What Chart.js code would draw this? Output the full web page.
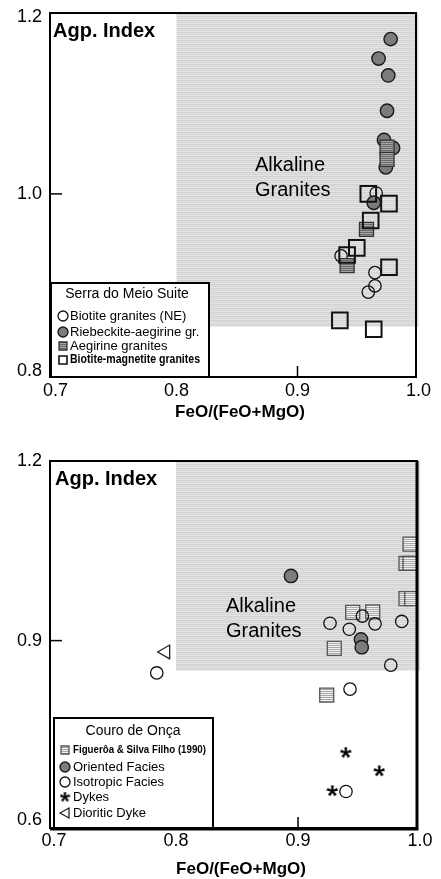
<!DOCTYPE html>
<html><head><meta charset="utf-8">
<script src="https://cdn.jsdelivr.net/npm/chart.js@4.4.1/dist/chart.umd.min.js"></script>
<style>
html,body{margin:0;padding:0;background:#fff;width:441px;height:879px;overflow:hidden}
.c{position:absolute;left:0;width:441px}
#w1{top:0;height:440px}
#w2{top:440px;height:439px}
</style></head><body>
<div class="c" id="w1"><canvas id="c1"></canvas></div>
<div class="c" id="w2"><canvas id="c2"></canvas></div>
<script>
// ---------- data ----------
const xTicks = [0.7, 0.8, 0.9, 1.0];
const xTickMarks = [0.8, 0.9];
const topYTicks = [0.8, 1.0, 1.2];
const topYTickMarks = [1.0];
const botYTicks = [0.6, 0.9, 1.2];
const botYTickMarks = [0.9];
const alkalineFieldX = [0.8, 1.0];
const alkalineFieldYMin = 0.85;

// Top panel: Serra do Meio Suite  [FeO/(FeO+MgO), Agp. Index]
const biotiteNE = [[0.965,1.001],[0.936,0.930],[0.964,0.911],[0.964,0.896],[0.9585,0.889]];
const riebeckite = [[0.977,1.175],[0.967,1.153],[0.975,1.134],[0.974,1.094],[0.9715,1.061],[0.979,1.052],[0.973,1.030],[0.963,0.990]];
const aegirine = [[0.974,1.053],[0.974,1.039],[0.957,0.960],[0.941,0.919]];
const biotiteMag = [[0.9585,1.000],[0.9756,0.989],[0.9605,0.970],[0.949,0.939],[0.941,0.931],[0.9756,0.917],[0.935,0.857],[0.963,0.847]];

// Bottom panel: Couro de Onça
const figueroa = [[0.9918,1.061],[0.9885,1.029],[0.9918,1.029],[0.9885,0.970],[0.9932,0.970],[0.9448,0.947],[0.9612,0.948],[0.9297,0.887],[0.9235,0.809]];
const oriented = [[0.8942,1.008],[0.9516,0.902],[0.9522,0.889]];
const isotropic = [[0.9262,0.929],[0.942,0.919],[0.9527,0.941],[0.9631,0.928],[0.985,0.932],[0.976,0.859],[0.9426,0.819],[0.7842,0.846],[0.9393,0.648]];
const dykes = [[0.9391,0.713],[0.9666,0.682],[0.9281,0.649]];
const dioriticDyke = [[0.7915,0.881]];

const topLegendTitle = 'Serra do Meio Suite';
const botLegendTitle = 'Couro de Onça';
// ---------- end data ----------

const FONT = '"Liberation Sans", Arial, Helvetica, sans-serif';
const pts = a => a.map(p => ({x:p[0], y:p[1]}));

function rowPattern(rows, w){
  const c = document.createElement('canvas'); c.width = w || 4; c.height = rows.length;
  const g = c.getContext('2d');
  rows.forEach((col,i)=>{ g.fillStyle = col; g.fillRect(0,i,c.width,1); });
  return g.createPattern(c,'repeat');
}
const shade = rowPattern(['#d2d2d2','#dedede','#d7d7d7','#e3e3e3']);
const aegFill = rowPattern(['#6a6a6a','#a4a4a4']);
const figFill = rowPattern(['#f2f2f2','#a8a8a8']);

function starCanvas(size, lw){
  const c = document.createElement('canvas'); c.width = size; c.height = size;
  const g = c.getContext('2d'); const m = size/2, r = size/2 - 0.5;
  g.fillStyle = '#000';
  // tapered arms like a typographic asterisk
  for (let k=0;k<5;k++){
    const an = -Math.PI/2 + k*2*Math.PI/5;
    const px = Math.cos(an + Math.PI/2), py = Math.sin(an + Math.PI/2);
    g.beginPath();
    g.moveTo(m + px*lw*0.35, m + py*lw*0.35);
    g.lineTo(m + Math.cos(an)*r + px*lw*0.6, m + Math.sin(an)*r + py*lw*0.6);
    g.lineTo(m + Math.cos(an)*r - px*lw*0.6, m + Math.sin(an)*r - py*lw*0.6);
    g.lineTo(m - px*lw*0.35, m - py*lw*0.35);
    g.closePath(); g.fill();
  }
  g.beginPath(); g.arc(m, m, lw*0.7, 0, Math.PI*2); g.fill();
  return c;
}
const starImg = starCanvas(12, 2.4);
const starImgSmall = starCanvas(11, 2.2);

function drawSym(ctx, st, x, y){
  ctx.save();
  ctx.fillStyle = st.fill; ctx.strokeStyle = st.stroke; ctx.lineWidth = st.lw;
  ctx.beginPath();
  const r = st.r;
  if (st.shape === 'circle'){ ctx.arc(x,y,r,0,Math.PI*2); ctx.fill(); ctx.stroke(); }
  else if (st.shape === 'rect'){ ctx.rect(x-r,y-r,2*r,2*r); ctx.fill(); ctx.stroke(); }
  else if (st.shape === 'star'){ ctx.drawImage(starImgSmall, x-5.5, y-5.5); }
  else if (st.shape === 'triangle'){
    ctx.moveTo(x-r, y); ctx.lineTo(x+r*0.8, y-r); ctx.lineTo(x+r*0.8, y+r); ctx.closePath(); ctx.fill(); ctx.stroke();
  }
  ctx.restore();
}

function makeDecor(cfg){
  return {
    id: 'decor',
    beforeDatasetsDraw(chart){
      const {ctx, scales:{x,y}} = chart;
      const x0 = x.getPixelForValue(alkalineFieldX[0]), x1 = x.getPixelForValue(alkalineFieldX[1]);
      const yb = y.getPixelForValue(alkalineFieldYMin), yt = y.getPixelForValue(y.max);
      ctx.save(); ctx.fillStyle = shade; ctx.fillRect(x0, yt, x1-x0, yb-yt); ctx.restore();
    },
    afterDatasetsDraw(chart){
      const {ctx, chartArea:a, scales:{x,y}} = chart;
      ctx.save();
      // tick marks inside
      ctx.strokeStyle = '#000'; ctx.lineWidth = 1.5;
      xTickMarks.forEach(v=>{ const px = x.getPixelForValue(v); ctx.beginPath(); ctx.moveTo(px, a.bottom); ctx.lineTo(px, a.bottom-11); ctx.stroke(); });
      cfg.yMarks.forEach(v=>{ const py = y.getPixelForValue(v); ctx.beginPath(); ctx.moveTo(a.left, py); ctx.lineTo(a.left+12, py); ctx.stroke(); });
      // legend box
      const L = cfg.legend;
      ctx.fillStyle = '#fff'; ctx.fillRect(L.box[0], L.box[1], L.box[2]-L.box[0], L.box[3]-L.box[1]);
      ctx.lineWidth = 2; ctx.strokeStyle = '#000';
      ctx.strokeRect(L.box[0], L.box[1], L.box[2]-L.box[0], L.box[3]-L.box[1]);
      ctx.fillStyle = '#000'; ctx.textBaseline = 'middle'; ctx.textAlign = 'center';
      ctx.font = '14px ' + FONT;
      ctx.fillText(L.title, L.titlePos[0], L.titlePos[1]);
      ctx.textAlign = 'left';
      L.items.forEach(it=>{
        drawSym(ctx, it.sym, L.symX, it.y);
        ctx.fillStyle = '#000'; ctx.font = it.font;
        if (it.maxW) ctx.fillText(it.text, L.textX, it.y, it.maxW); else ctx.fillText(it.text, L.textX, it.y);
      });
      // frame
      ctx.lineWidth = cfg.frameW; ctx.strokeStyle = '#000';
      ctx.strokeRect(a.left, a.top, a.right-a.left, a.bottom-a.top);
      if (cfg.heavyRB){
        ctx.lineWidth = 3; ctx.beginPath(); ctx.moveTo(a.right, a.top); ctx.lineTo(a.right, a.bottom+1); ctx.lineTo(a.left, a.bottom+1); ctx.stroke();
      }
      // labels
      ctx.fillStyle = '#000'; ctx.textAlign = 'left'; ctx.textBaseline = 'middle';
      ctx.font = 'bold 20px ' + FONT;
      ctx.fillText('Agp. Index', a.left + cfg.agp[0], a.top + cfg.agp[1]);
      ctx.font = '20px ' + FONT;
      ctx.fillText('Alkaline', cfg.alk[0], cfg.alk[1]);
      ctx.fillText('Granites', cfg.alk[0], cfg.alk[1] + 25);
      ctx.font = 'bold 17px ' + FONT; ctx.textAlign = 'center';
      ctx.fillText('FeO/(FeO+MgO)', cfg.xTitle[0], cfg.xTitle[1]);
      ctx.restore();
    }
  };
}

const ST = {
  openC:  {shape:'circle', r:6.2, fill:'rgba(0,0,0,0)', stroke:'#111', lw:1.3},
  darkC:  {shape:'circle', r:6.7, fill:'#7c7c7c', stroke:'#1a1a1a', lw:1.4},
  aegR:   {shape:'rect', r:7, fill:aegFill, stroke:'#333', lw:1.3},
  openR:  {shape:'rect', r:7.8, fill:'rgba(0,0,0,0)', stroke:'#111', lw:2},
  figR:   {shape:'rect', r:7, fill:figFill, stroke:'#555', lw:1.3},
  star:   {shape:'star', r:6, fill:'#000', stroke:'#000', lw:2},
  tri:    {shape:'triangle', r:8, fill:'#fff', stroke:'#222', lw:1.3}
};

function ds(label, data, st, order){
  const isStar = st.shape === 'star', isTri = st.shape === 'triangle';
  return {
    label, data: pts(data), order,
    pointStyle: isStar ? starImg : (isTri ? 'triangle' : st.shape),
    rotation: isTri ? -90 : 0,
    pointRadius: st.shape === 'rect' ? st.r * Math.SQRT2 : st.r,
    pointHoverRadius: st.shape === 'rect' ? st.r * Math.SQRT2 : st.r,
    backgroundColor: st.fill, borderColor: st.stroke, borderWidth: st.lw,
    pointBackgroundColor: st.fill, pointBorderColor: st.stroke, pointBorderWidth: st.lw,
    showLine: false
  };
}

function makeChart(id, datasets, xMin, xMax, yMin, yMax, yTicks, topPad, rightPad, xAxisH, tickPad, decorCfg){
  return new Chart(document.getElementById(id), {
    type: 'scatter',
    data: { datasets },
    options: {
      responsive: true, maintainAspectRatio: false, animation: false, devicePixelRatio: 1,
      layout: { padding: { top: topPad, right: rightPad, left: 0, bottom: 0 } },
      plugins: { legend: { display: false }, tooltip: { enabled: false } },
      events: [],
      scales: {
        x: {
          type: 'linear', min: xMin, max: xMax,
          afterBuildTicks: s => { s.ticks = xTicks.map(v => ({value: v})); },
          afterFit: s => { s.height = xAxisH; s.paddingLeft = 0; s.paddingRight = 0; },
          ticks: { callback: v => Number(v).toFixed(1), font: {size: 18, family: FONT}, color: '#000', padding: tickPad, maxRotation: 0, autoSkip: false },
          grid: { display: false, drawTicks: false }, border: { display: false }
        },
        y: {
          type: 'linear', min: yMin, max: yMax,
          afterBuildTicks: s => { s.ticks = yTicks.map(v => ({value: v})); },
          afterFit: s => { s.width = 50; s.paddingTop = 0; s.paddingBottom = 0; },
          ticks: { callback: v => Number(v).toFixed(1), font: {size: 18, family: FONT}, color: '#000', padding: 8, autoSkip: false },
          grid: { display: false, drawTicks: false }, border: { display: false }
        }
      }
    },
    plugins: [makeDecor(decorCfg)]
  });
}

const item13 = '13px ' + FONT;

makeChart('c1', [
  ds('Biotite granites (NE)', biotiteNE, ST.openC, 4),
  ds('Riebeckite-aegirine gr.', riebeckite, ST.darkC, 3),
  ds('Aegirine granites', aegirine, ST.aegR, 2),
  ds('Biotite-magnetite granites', biotiteMag, ST.openR, 1)
], 0.69545, 0.99793, 0.793, 1.2045, topYTicks, 11, 25, 63, 3, {
  yMarks: topYTickMarks, frameW: 2, heavyRB: false,
  agp: [3, 18], alk: [255, 165], xTitle: [240, 412],
  legend: {
    box: [51, 283, 209, 377], title: topLegendTitle, titlePos: [127, 294], symX: 63, textX: 70,
    items: [
      {text:'Biotite granites (NE)', y:316, sym:{...ST.openC, r:5}, font:item13},
      {text:'Riebeckite-aegirine gr.', y:332, sym:{...ST.darkC, r:5}, font:item13},
      {text:'Aegirine granites', y:346, sym:{...ST.aegR, r:4}, font:item13},
      {text:'Biotite-magnetite granites', y:360, sym:{...ST.openR, r:4, lw:1.6}, font:'bold 12px ' + FONT, maxW:130}
    ]
  }
});

makeChart('c2', [
  ds('Figuerôa & Silva Filho (1990)', figueroa, ST.figR, 5),
  ds('Oriented Facies', oriented, ST.darkC, 4),
  ds('Isotropic Facies', isotropic, ST.openC, 3),
  ds('Dykes', dykes, ST.star, 2),
  ds('Dioritic Dyke', dioriticDyke, ST.tri, 1)
], 0.6967, 0.9975, 0.587, 1.2, botYTicks, 21, 24, 51, 2, {
  yMarks: botYTickMarks, frameW: 2, heavyRB: true,
  agp: [5, 18], alk: [226, 166], xTitle: [241, 429],
  legend: {
    box: [54, 278, 213, 389], title: botLegendTitle, titlePos: [133, 291], symX: 65, textX: 73,
    items: [
      {text:'Figuerôa & Silva Filho (1990)', y:310, sym:{...ST.figR, r:4}, font:'bold 11px ' + FONT, maxW:133},
      {text:'Oriented Facies', y:327, sym:{...ST.darkC, r:5}, font:item13},
      {text:'Isotropic Facies', y:342, sym:{...ST.openC, r:5}, font:item13},
      {text:'Dykes', y:357, sym:{...ST.star, r:4}, font:item13},
      {text:'Dioritic Dyke', y:373, sym:{...ST.tri, r:5}, font:item13}
    ]
  }
});
</script>
</body></html>
